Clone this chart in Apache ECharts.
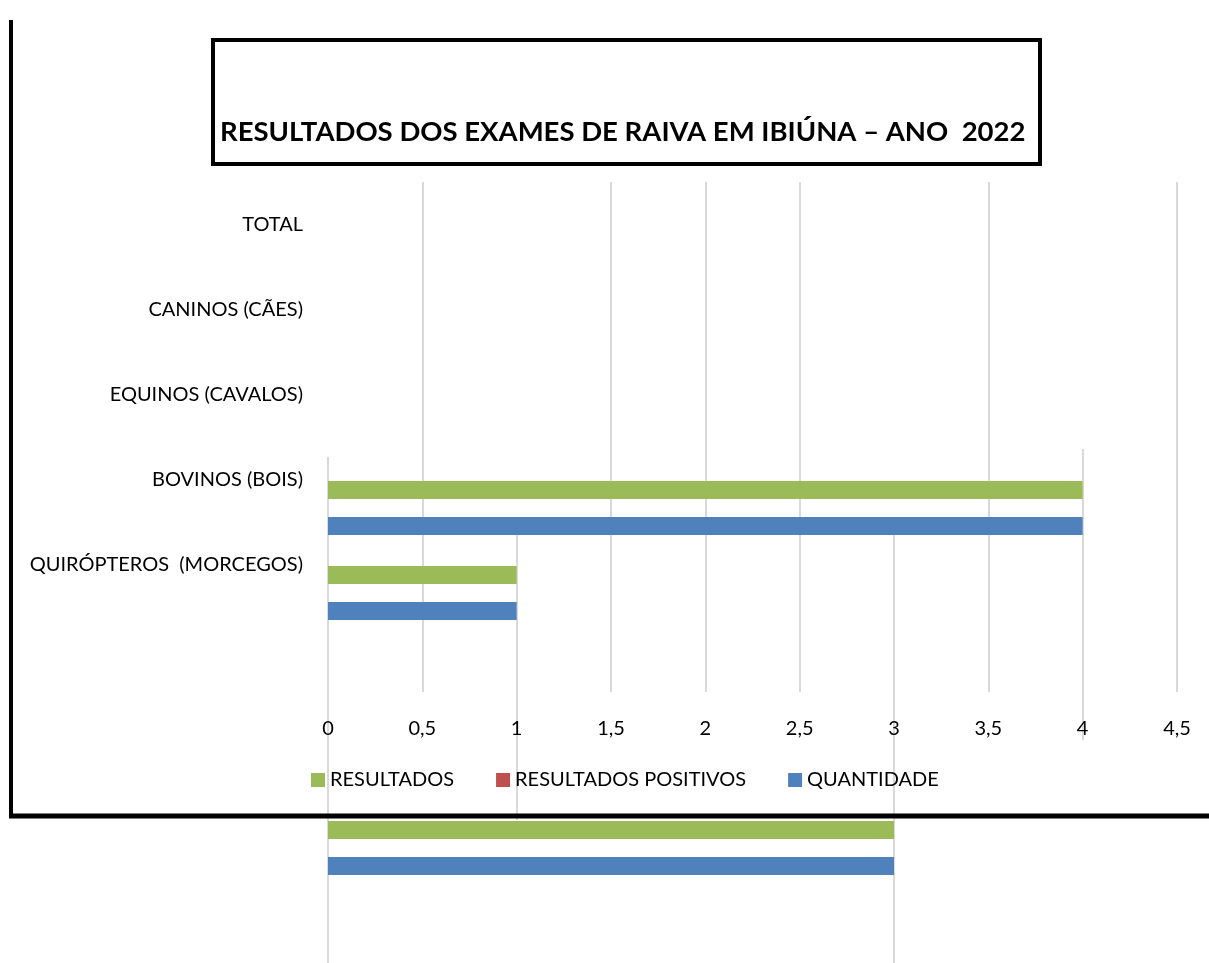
<!DOCTYPE html>
<html>
<head>
<meta charset="utf-8">
<script src="https://cdn.jsdelivr.net/npm/echarts@6/dist/echarts.min.js"></script>
<style>
  html, body { margin: 0; padding: 0; background: #fff; }
  #chart { width: 1209px; height: 963px; }
</style>
</head>
<body>
<div id="chart"></div>
<script>
  // categorias (de cima para baixo)
  var categorias = ['TOTAL', 'CANINOS (CÃES)', 'EQUINOS (CAVALOS)', 'BOVINOS (BOIS)', 'QUIRÓPTEROS  (MORCEGOS)', '']
  // linhas das barras: as 5 categorias + 3 linhas sobrando (a ultima aparece abaixo da moldura)
  var linhasBarras = ['TOTAL', 'CANINOS (CÃES)', 'EQUINOS (CAVALOS)', 'BOVINOS (BOIS)', 'QUIRÓPTEROS  (MORCEGOS)', 'x1', 'x2', 'x3']
  var resultados = [0, 0, 0, 4, 1, 0, 0, 3]
  var positivos = [0, 0, 0, 0, 0, 0, 0, 0]
  var quantidade = [0, 0, 0, 4, 1, 0, 0, 3]
  var ticksX = [0, 0.5, 1, 1.5, 2, 2.5, 3, 3.5, 4, 4.5]

  var cinza = '#d9d9d9'
  var fonte = 'Lato'

  // grade so com linhas verticais em alguns valores
  function coresLinhas(valores) {
    return ticksX.map(function(v) { return valores.indexOf(v) >= 0 ? cinza : 'rgba(0,0,0,0)' })
  }

  var grids = [
    { left: 328, right: 32, top: 182, height: 510 }, // 0 principal
    { left: 328, right: 32, top: 210.5, height: 680 }, // 1 barras
    { left: 328, right: 32, top: 457, height: 506 }, // 2 linha do 0
    { left: 328, right: 32, top: 535, height: 428 }, // 3 linha do 3
    { left: 328, right: 32, top: 535, height: 285 }, // 4 linha do 1
    { left: 328, right: 32, top: 449, height: 291 } // 5 linha do 4
  ]
  var linhasPorGrid = [
    [0.5, 1.5, 2, 2.5, 3.5, 4.5],
    [],
    [0],
    [3],
    [1],
    [4]
  ]

  var xAxes = grids.map(function(g, i) {
    return {
      type: 'value',
      gridIndex: i,
      min: 0,
      max: 4.5,
      interval: 0.5,
      axisLine: { show: false },
      axisTick: { show: false },
      axisLabel: {
        show: i === 0,
        margin: 27,
        color: '#000',
        fontFamily: fonte,
        fontSize: 20,
        formatter: function(v) { return String(v).replace('.', ',') }
      },
      splitLine: { show: linhasPorGrid[i].length > 0, lineStyle: { color: coresLinhas(linhasPorGrid[i]), width: 2 } }
    }
  })
  var yAxes = grids.map(function(g, i) {
    return {
      type: 'category',
      gridIndex: i,
      inverse: true,
      data: i === 0 ? categorias : (i === 1 ? linhasBarras : ['a']),
      axisLine: { show: false },
      axisTick: { show: false },
      splitLine: { show: false },
      axisLabel: {
        show: i === 0,
        margin: 25,
        color: '#000',
        fontFamily: fonte,
        fontSize: 20,
        padding: [4, 0, 0, 0]
      }
    }
  })

  var chart = echarts.init(document.getElementById('chart'))
  chart.setOption({
    animation: false,
    backgroundColor: '#fff',
    title: {
      text: 'RESULTADOS DOS EXAMES DE RAIVA EM IBIÚNA – ANO  2022',
      left: 220,
      top: 118,
      padding: 0,
      textStyle: { fontFamily: fonte, fontWeight: 'bold', fontSize: 27.5, color: '#000' }
    },
    legend: {
      data: ['RESULTADOS', 'RESULTADOS POSITIVOS', 'QUANTIDADE'],
      left: 306,
      top: 765,
      icon: 'rect',
      itemWidth: 14,
      itemHeight: 14,
      itemGap: 42,
      textStyle: { fontFamily: fonte, fontSize: 20, color: '#000' }
    },
    grid: grids,
    xAxis: xAxes,
    yAxis: yAxes,
    graphic: [
      { type: 'rect', shape: { x: 213, y: 40, width: 827, height: 124 }, style: { fill: 'none', stroke: '#000', lineWidth: 4 }, z: 10 },
      { type: 'line', shape: { x1: 11, y1: 20, x2: 11, y2: 818 }, style: { stroke: '#000', lineWidth: 4 }, z: 10 },
      { type: 'line', shape: { x1: 9, y1: 816, x2: 1209, y2: 816 }, style: { stroke: '#000', lineWidth: 5 }, z: 10 }
    ],
    series: [{
      name: 'RESULTADOS',
      type: 'bar',
      xAxisIndex: 1,
      yAxisIndex: 1,
      barWidth: 18,
      barGap: 0,
      itemStyle: { color: '#9bbb59' },
      data: resultados
    }, {
      name: 'RESULTADOS POSITIVOS',
      type: 'bar',
      xAxisIndex: 1,
      yAxisIndex: 1,
      barWidth: 18,
      barGap: 0,
      itemStyle: { color: '#c0504d' },
      data: positivos
    }, {
      name: 'QUANTIDADE',
      type: 'bar',
      xAxisIndex: 1,
      yAxisIndex: 1,
      barWidth: 18,
      barGap: 0,
      itemStyle: { color: '#4f81bd' },
      data: quantidade
    }]
  })
</script>
</body>
</html>
